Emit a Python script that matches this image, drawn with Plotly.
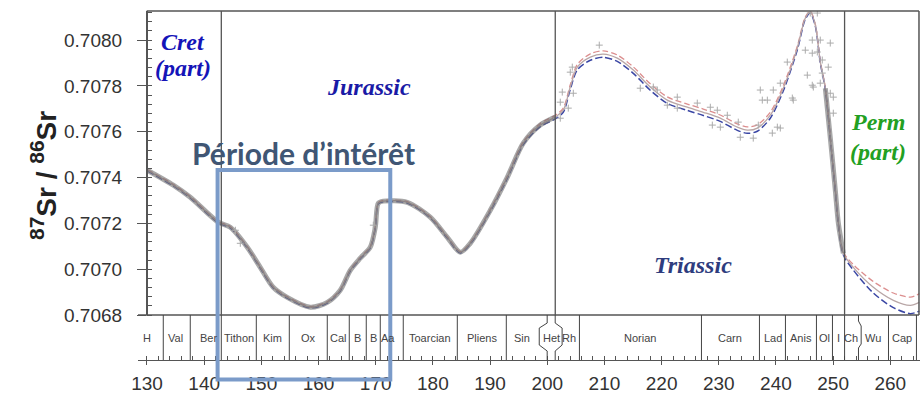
import numpy as np
import plotly.graph_objects as go

# --- Sr isotope seawater curve (age in Ma, 87Sr/86Sr) ---
curve_age = [130.05, 134.60, 137.57, 142.47, 144.57, 147.54, 149.81, 152.08, 154.53, 158.56,
             161.53, 163.80, 165.55, 167.30, 169.05, 169.93, 170.45, 171.32, 175.52, 179.54,
             182.52, 184.79, 186.54, 190.04, 193.01, 195.81, 198.78, 201.40, 202.80, 204.03,
             205.26, 207.53, 209.80, 212.25, 215.05, 218.02, 220.99, 224.49, 227.29, 230.26,
             233.24, 234.99, 236.74, 239.01, 241.29, 243.73, 245.13, 246.01, 246.88, 247.76,
             248.63, 249.51, 250.38, 250.91, 251.78, 253.53, 257.03, 260.53, 263.50, 265.07]
curve_ratio = [0.707432, 0.707367, 0.707314, 0.707205, 0.707183, 0.707096, 0.707008, 0.706921, 0.706877, 0.706834,
               0.706855, 0.706908, 0.706995, 0.707048, 0.707096, 0.707183, 0.707288, 0.707297, 0.707292, 0.707227,
               0.707139, 0.707074, 0.707113, 0.707257, 0.707401, 0.707550, 0.707629, 0.707664, 0.707694, 0.707795,
               0.707882, 0.707926, 0.707939, 0.707921, 0.707869, 0.707795, 0.707738, 0.707707, 0.707685, 0.707659,
               0.707620, 0.707607, 0.707616, 0.707672, 0.707790, 0.707965, 0.708096, 0.708122, 0.708066, 0.707904,
               0.707790, 0.707572, 0.707345, 0.707201, 0.707069, 0.707008, 0.706921, 0.706864, 0.706842, 0.706855]
# half-width of the confidence envelope, in units of 1e-6
curve_halfwidth = [3, 3, 3, 3, 3, 3, 3, 3, 3, 3,
                   3, 3, 3, 3, 3, 3, 3, 3, 3, 3,
                   3, 3, 3, 4, 5, 6, 7, 8, 9, 10,
                   12, 14, 14, 14, 14, 14, 14, 14, 14, 14,
                   14, 14, 14, 13, 11, 8, 5, 4, 4, 4,
                   4, 4, 4, 5, 6, 12, 25, 32, 36, 38]

# intervals with densely sampled measurements
dense_intervals = [(130.0, 201.5), (248.5, 252.0)]

# individual measurements outside the dense intervals
meas_age = [209.10, 204.38, 204.03, 202.63, 202.28, 204.56, 203.68, 202.28, 216.27, 218.55,
            221.00, 222.74, 222.74, 226.24, 228.52, 229.74, 228.87, 230.27, 231.49, 219.25,
            233.41, 233.76, 236.03, 236.91, 239.36, 240.76, 237.26, 238.49, 239.53, 240.76,
            241.98, 243.03, 245.48, 245.13, 246.35, 247.75, 249.50, 246.35, 247.23, 248.10,
            246.53, 247.75, 248.10, 249.50, 250.03, 250.03, 249.15, 246.00, 247.23, 237.61,
            242.86, 246.35, 240.24, 145.46, 146.32, 169.58]
meas_ratio = [0.707978, 0.707882, 0.707860, 0.707773, 0.707729, 0.707768, 0.707703, 0.707659, 0.707790, 0.707795,
              0.707716, 0.707751, 0.707703, 0.707725, 0.707707, 0.707694, 0.707629, 0.707620, 0.707672, 0.707782,
              0.707642, 0.707576, 0.707572, 0.707629, 0.707594, 0.707616, 0.707782, 0.707738, 0.707782, 0.707812,
              0.707904, 0.707738, 0.707847, 0.707956, 0.708000, 0.708000, 0.707987, 0.707943, 0.707948, 0.707913,
              0.707795, 0.707812, 0.707856, 0.707768, 0.707751, 0.707681, 0.707882, 0.708118, 0.708118, 0.707738,
              0.707747, 0.707803, 0.707620, 0.707170, 0.707113, 0.707192]

# --- chronostratigraphy ---
stage_bounds = [128.48, 132.85, 137.57, 143.0, 149.12, 154.89, 161.53, 165.38, 168.35, 170.80,
                174.82, 184.27, 192.84, 205.63, 226.97, 237.11, 241.66, 247.08, 249.88, 252.0,
                259.68, 264.57]
stage_names = ["H", "Val", "Ber", "Tithon", "Kim", "Ox", "Cal", "B", "B", "Aa",
               "Toarcian", "Pliens", "Sin", "Het", "Rh", "Norian", "Carn", "Lad", "Anis", "Ol",
               "I", "Ch", "Wu", "Cap"]
stage_label_age = [130.0, 135.0, 140.8, 146.05, 152.0, 158.2, 163.45, 166.87, 169.58, 172.2,
                   179.5, 188.55, 195.6, 200.7, 203.8, 216.3, 232.0, 239.4, 244.4, 248.5,
                   250.9, 253.1, 257.0, 262.1]
# short stages whose boxes are widened with bracket-shaped edges: (inner, outer)
het_left = (199.99, 198.6)
het_right = (201.39, 202.6)
chang_right = (254.43, 254.9)

period_bounds = [143.0, 201.4, 252.0]
periods = [("Cret", 136.35, 0.707993, "#1414b8"), ("(part)", 136.35, 0.707878, "#1414b8"),
           ("Jurassic", 168.88, 0.707795, "#1a1aa6"),
           ("Triassic", 225.45, 0.707017, "#2e3c7e"),
           ("Perm", 257.9, 0.707642, "#22a022"), ("(part)", 257.9, 0.707511, "#22a022")]

focus_window = (142.35, 172.55)

x_range = [128.43, 265.19]
y_range = [0.7068, 0.708127]

# --- layout geometry (paper fractions) ---
band_top = 45.0 / 349.0
frame_left = 8.7 / 782.0

age = np.array(curve_age)
ratio = np.array(curve_ratio)
hw = np.array(curve_halfwidth) * 1e-6

fig = go.Figure()

fig.add_trace(go.Scatter(x=age, y=ratio + hw, mode="lines", line_shape="spline",
                         line=dict(color="#dc8e8e", width=1.3, dash="6px,3px", smoothing=0.8),
                         hoverinfo="skip"))
fig.add_trace(go.Scatter(x=age, y=ratio - hw, mode="lines", line_shape="spline",
                         line=dict(color="#3a46a4", width=1.5, dash="7px,3px", smoothing=0.8),
                         hoverinfo="skip"))
fig.add_trace(go.Scatter(x=age, y=ratio, mode="lines", line_shape="spline",
                         line=dict(color="#b8a6a6", width=1.3, smoothing=0.8),
                         hoverinfo="skip"))

for lo, hi in dense_intervals:
    m = (age >= lo) & (age <= hi)
    fig.add_trace(go.Scatter(x=age[m], y=ratio[m], mode="lines", line_shape="spline",
                             line=dict(color="rgba(110,110,110,0.6)", width=5, smoothing=0.8),
                             hoverinfo="skip"))

fig.add_trace(go.Scatter(x=meas_age, y=meas_ratio, mode="markers",
                         marker=dict(symbol="cross-thin", size=5,
                                     line=dict(color="#ababab", width=1)),
                         hoverinfo="skip"))

shapes = []
line_col = "#555555"
# plot frame (top, right) and band top
shapes.append(dict(type="line", xref="paper", yref="paper", x0=frame_left, x1=0.9987, y0=1, y1=1,
                   line=dict(color=line_col, width=1.5)))
shapes.append(dict(type="line", xref="paper", yref="paper", x0=0.9987, x1=0.9987, y0=band_top, y1=1,
                   line=dict(color=line_col, width=1.5)))
shapes.append(dict(type="line", xref="paper", yref="paper", x0=0, x1=0.9987, y0=band_top, y1=band_top,
                   line=dict(color=line_col, width=1.3)))
# period boundaries
for b in period_bounds:
    shapes.append(dict(type="line", xref="x", yref="paper", x0=b, x1=b, y0=band_top, y1=1,
                       line=dict(color=line_col, width=1.3)))
# stage boundaries in the band
for b in stage_bounds[1:]:
    shapes.append(dict(type="line", xref="x", yref="paper", x0=b, x1=b, y0=0, y1=band_top,
                       line=dict(color="#444444", width=1)))


def bracket(inner, outer):
    ys = [band_top, 0.1059, 0.0916, 0.0429, 0.0258, 0.0]
    xs = [inner, inner, outer, outer, inner, inner]
    return "M " + " L ".join(f"{x},{y}" for x, y in zip(xs, ys))


def kink(inner, outer):
    ys = [band_top, 0.1117, 0.0974, 0.0458, 0.0344, 0.0]
    xs = [inner, inner, outer, outer, inner, inner]
    return "M " + " L ".join(f"{x},{y}" for x, y in zip(xs, ys))


for p in (bracket(*het_left), bracket(*het_right), kink(*chang_right)):
    shapes.append(dict(type="path", xref="x", yref="paper", path=p,
                       line=dict(color="#444444", width=1)))

# highlighted window
shapes.append(dict(type="rect", xref="x", yref="paper", x0=focus_window[0], x1=focus_window[1],
                   y0=-0.0559, y1=0.5444, line=dict(color="#7b9bc9", width=4), layer="above"))

annotations = []
for name, xa in zip(stage_names, stage_label_age):
    annotations.append(dict(x=xa, y=0.063, xref="x", yref="paper", text=name, showarrow=False,
                            font=dict(family="Liberation Sans, Arial", size=11, color="#444444"),
                            xanchor="center", yanchor="middle"))
for text, xa, ya, col in periods:
    annotations.append(dict(x=xa, y=ya, xref="x", yref="y", text=f"<b><i>{text}</i></b>",
                            showarrow=False, xanchor="center", yanchor="middle",
                            font=dict(family="Liberation Serif, Times New Roman", size=24, color=col)))
annotations.append(dict(x=157.33, y=0.5931, xref="x", yref="paper",
                        text="<b>Période d’intérêt</b>", showarrow=False,
                        xanchor="center", yanchor="middle",
                        font=dict(family="Lato", size=30, color="#405674")))
sup = '<sup><span style="font-size:21px">{}</span></sup>'
annotations.append(dict(x=-0.1215, y=0.5300, xref="paper", yref="paper",
                        text="<b>" + sup.format("87") + "Sr / " + sup.format("86") + "Sr</b>",
                        textangle=-90, showarrow=False, xanchor="center", yanchor="middle",
                        font=dict(family="Liberation Sans, Arial", size=28, color="#222222")))

tick_font = dict(family="Liberation Sans, Arial", size=19, color="#333333")

fig.update_layout(
    width=923, height=401,
    margin=dict(l=138, r=3, t=11, b=41),
    paper_bgcolor="white", plot_bgcolor="white",
    showlegend=False,
    shapes=shapes, annotations=annotations,
    xaxis=dict(range=x_range, domain=[0, 1], anchor="free", position=0,
               showgrid=False, zeroline=False, showline=True, linecolor=line_col, linewidth=1.3,
               tickmode="linear", tick0=130, dtick=10, ticks="outside", ticklen=4,
               tickcolor=line_col, tickwidth=1.2, tickfont=tick_font, ticklabelstandoff=2,
               minor=dict(dtick=2, ticks="inside", ticklen=4, tickcolor=line_col, tickwidth=1)),
    xaxis2=dict(range=x_range, domain=[0, 1], anchor="free", position=0, overlaying="x",
                matches="x", showgrid=False, zeroline=False, showline=False,
                tickmode="linear", tick0=130, dtick=10, ticks="inside", ticklen=4,
                tickcolor=line_col, tickwidth=1.2, showticklabels=False),
    yaxis=dict(range=y_range, domain=[band_top, 1], anchor="free", position=frame_left,
               showgrid=False, zeroline=False, showline=True, linecolor=line_col, linewidth=1.5,
               tickmode="linear", tick0=0.7068, dtick=0.0002, tickformat=".4f",
               ticks="outside", ticklen=9, tickcolor=line_col, tickwidth=1.2,
               tickfont=tick_font, ticklabelstandoff=11,
               minor=dict(dtick=0.00004, ticks="inside", ticklen=5, tickcolor=line_col, tickwidth=1)),
    yaxis2=dict(range=y_range, domain=[band_top, 1], anchor="free", position=frame_left,
                overlaying="y", matches="y", showgrid=False, zeroline=False, showline=False,
                tickmode="linear", tick0=0.7068, dtick=0.0002, ticks="inside", ticklen=5,
                tickcolor=line_col, tickwidth=1.2, showticklabels=False),
)

fig.write_html("out.html")
